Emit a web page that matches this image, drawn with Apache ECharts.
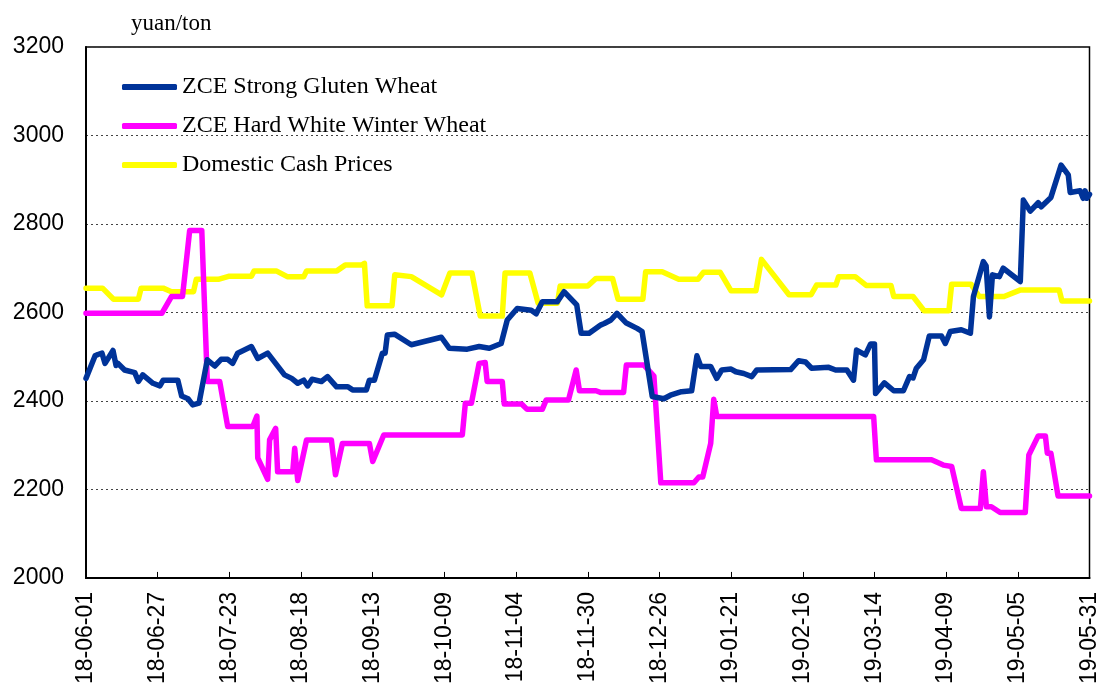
<!DOCTYPE html>
<html>
<head>
<meta charset="utf-8">
<script src="https://cdn.jsdelivr.net/npm/echarts@6/dist/echarts.min.js"></script>
<style>
html,body{margin:0;padding:0;background:#fff;}
#chart{width:1101px;height:687px;}
</style>
</head>
<body>
<div id="chart"></div>
<script>
// X tick labels (every 26 days, day index 0 = 18-06-01)
var tickLabels = ['18-06-01','18-06-27','18-07-23','18-08-18','18-09-13','18-10-09','18-11-04','18-11-30','18-12-26','19-01-21','19-02-16','19-03-14','19-04-09','19-05-05','19-05-31'];
var seriesNames = ['ZCE Strong Gluten Wheat','ZCE Hard White Winter Wheat','Domestic Cash Prices'];

// [day index, yuan/ton]
var strongGluten = [[0,2451],[3.3,2502],[4.3,2505],[5.8,2508],[6.9,2485],[9.8,2514],[10.9,2480],[11.6,2485],[14,2470],[17.7,2464],[19,2444],[20.6,2459],[24.3,2440],[26.8,2434],[28,2447],[33.3,2447],[34.7,2411],[37,2405],[38.7,2391],[41,2395],[44,2493],[46.7,2479],[49,2494],[51.4,2494],[53.2,2485],[55,2508],[60,2523],[62.3,2496],[65.9,2508],[72,2459],[74.6,2451],[76.8,2440],[79,2447],[80.4,2434],[82,2449],[85.4,2444],[87.6,2455],[90.9,2432],[95,2432],[96.7,2425],[101.7,2425],[102.8,2447],[104.6,2447],[107.5,2508],[108.5,2508],[109.3,2549],[111.9,2551],[118,2527],[128.9,2544],[131.8,2519],[138.3,2517],[142.6,2523],[146.3,2519],[150.6,2530],[152.8,2583],[156.4,2609],[161.5,2605],[163.3,2597],[165.5,2624],[170.9,2624],[173.4,2647],[178,2617],[179.6,2553],[182.5,2553],[186.8,2572],[188,2575],[190.4,2583],[192.6,2598],[196,2576],[199.9,2564],[201.7,2557],[205.4,2410],[209.6,2405],[212,2413],[216,2421],[219.7,2423],[221.6,2502],[223,2478],[226.6,2478],[228.8,2451],[230.6,2470],[234,2472],[235.7,2466],[238.6,2462],[241.5,2455],[243.3,2470],[255.6,2471],[258.5,2491],[261,2488],[263.2,2474],[269.4,2476],[271.9,2470],[276,2470],[278.4,2447],[279.5,2515],[282.7,2504],[284.6,2529],[286,2529],[286.4,2417],[289.6,2441],[293,2423],[296.5,2423],[298.7,2455],[300,2452],[301.2,2474],[303.8,2493],[305.9,2547],[310.3,2547],[311.7,2530],[313.5,2557],[317.5,2561],[320.8,2553],[321.9,2636],[325.5,2715],[326.5,2705],[327.7,2590],[328.8,2685],[331.3,2681],[332.7,2700],[338.9,2670],[340,2854],[342.5,2829],[345.4,2848],[346.5,2839],[350,2860],[353.7,2933],[356.3,2911],[357,2871],[360.6,2875],[361.7,2858],[362.4,2875],[363,2858],[364,2867]];

var hardWhiteWinter = [[0,2598],[27.5,2598],[31,2636],[35,2636],[37.6,2785],[42,2785],[44,2444],[48.5,2444],[51.4,2342],[60.5,2342],[62,2366],[62.3,2271],[65.9,2223],[66.6,2312],[68.8,2338],[69.5,2240],[75,2240],[75.7,2293],[76.8,2220],[80,2312],[89,2312],[90.5,2233],[93,2304],[102.8,2304],[104,2263],[108,2323],[136.5,2323],[137.6,2395],[139.8,2395],[142.6,2485],[144.8,2487],[145.5,2444],[151,2444],[151.7,2393],[158,2393],[160,2381],[165.5,2381],[166.9,2402],[175,2402],[177.8,2470],[179,2423],[185,2423],[186.8,2419],[195,2419],[196,2481],[202.4,2481],[206,2456],[208.5,2215],[220.5,2215],[222.3,2228],[223.7,2228],[226.6,2304],[227.7,2404],[228.8,2365],[285.7,2365],[286.7,2267],[306.7,2267],[311,2255],[314,2252],[317.5,2157],[324.4,2157],[325.5,2240],[326.6,2161],[328.4,2161],[331.6,2148],[340.7,2148],[342,2278],[345.4,2321],[348,2321],[348.7,2282],[350,2282],[352.6,2185],[364,2185]];

var cashPrices = [[0,2655],[6,2655],[10,2630],[19,2630],[20,2655],[28,2655],[31,2647],[39,2647],[40,2675],[48,2675],[52,2682],[60,2682],[61,2694],[69,2694],[73,2681],[79,2681],[80,2694],[91,2694],[94,2707],[100,2707],[101,2711],[102,2615],[111,2615],[112,2685],[118,2681],[129,2640],[132,2689],[140,2689],[143,2592],[151,2592],[152,2689],[161,2689],[164,2621],[171,2621],[172,2660],[182,2660],[185,2677],[191,2677],[193,2630],[202,2630],[203,2692],[209,2692],[215,2675],[222,2675],[224,2691],[230,2691],[234,2649],[243,2649],[245,2720],[255,2640],[263,2640],[265,2662],[272,2662],[273,2681],[279,2681],[283,2661],[292,2661],[293,2636],[300,2636],[304,2604],[313,2604],[314,2664],[321,2664],[324,2636],[333,2636],[339,2651],[353,2651],[354,2626],[364,2626]];

var colors = ['#003399','#FF00FF','#FFFF00'];

var chart = echarts.init(document.getElementById('chart'), null, {renderer:'canvas'});
function mkSeries(name, data, color){
  return {
    name: name, type: 'line', data: data, showSymbol: false, symbol: 'none',
    smooth: false, animation: false, color: color,
    lineStyle: {color: color, width: 5.5, cap: 'round', join: 'round'}
  };
}
chart.setOption({
  animation: false,
  backgroundColor: '#fff',
  title: {
    text: 'yuan/ton', left: 126, top: 7,
    textStyle: {fontFamily: 'Liberation Serif', fontSize: 23, fontWeight: 'normal', color: '#000'}
  },
  legend: {
    orient: 'vertical', left: 117, top: 70, itemWidth: 55, itemHeight: 6, itemGap: 15,
    icon: 'roundRect', selectedMode: false, data: seriesNames,
    textStyle: {fontFamily: 'Liberation Serif', fontSize: 24, color: '#000'}
  },
  grid: {left: 86, right: 11, top: 47, bottom: 109, show: true, borderColor: '#000', borderWidth: 1.5, containLabel: false},
  xAxis: {
    type: 'value', min: 0, max: 364, interval: 26,
    axisLine: {show: true, lineStyle: {color: '#000', width: 2}},
    axisTick: {show: true, inside: true, length: 6, lineStyle: {color: '#000', width: 1}},
    splitLine: {show: false},
    axisLabel: {
      rotate: 90, margin: 14, fontFamily: 'Liberation Sans', fontSize: 23, color: '#000',
      formatter: function(v){ return tickLabels[Math.round(v/26)]; }
    }
  },
  yAxis: {
    type: 'value', min: 2000, max: 3200, interval: 200,
    axisLine: {show: true, lineStyle: {color: '#000', width: 2}},
    axisTick: {show: false},
    splitLine: {show: true, lineStyle: {color: '#444', width: 1, type: [2,3]}},
    axisLabel: {margin: 22, fontFamily: 'Liberation Sans', fontSize: 23, color: '#000',
      formatter: function(v){ return String(v); }}
  },
  series: [
    mkSeries(seriesNames[2], cashPrices, colors[2]),
    mkSeries(seriesNames[1], hardWhiteWinter, colors[1]),
    mkSeries(seriesNames[0], strongGluten, colors[0])
  ]
});
</script>
</body>
</html>
